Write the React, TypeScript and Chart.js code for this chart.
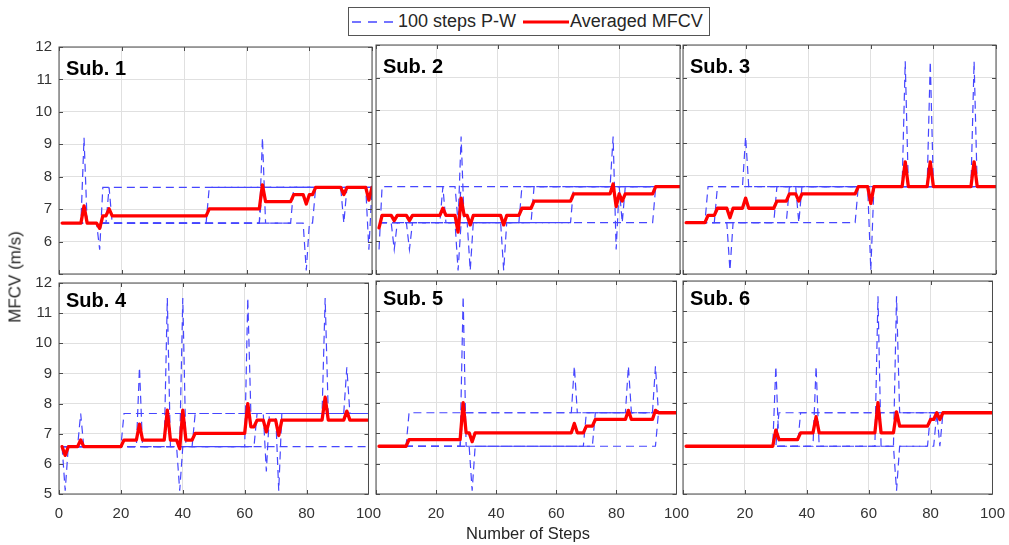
import React, { useEffect, useRef } from "react";
import { Chart, registerables } from "chart.js";

Chart.register(...registerables);
Chart.defaults.font.family = 'Arial, "Liberation Sans", Helvetica, sans-serif';

// ---------- data ----------
// x categories: step number
const STEPS = Array.from({ length: 100 }, (_, i) => i + 1);
const X_TICKS = [0, 20, 40, 60, 80, 100];
const Y_TICKS = [5, 6, 7, 8, 9, 10, 11, 12];
const SUB_NAMES = ["Sub. 1", "Sub. 2", "Sub. 3", "Sub. 4", "Sub. 5", "Sub. 6"];
const LEGEND_LABELS = ["100 steps P-W", "Averaged MFCV"];
const Y_TITLE = "MFCV (m/s)";
const X_TITLE = "Number of Steps";

// Each series is written as runs: [MFCV value (m/s), number of consecutive steps]
type Run = [number, number];

const SUB1_PW: Run[][] = [
  [[6.57, 7], [9.2, 1], [6.57, 4], [5.75, 1], [7.67, 85], [5.75, 1], [7.67, 1]],
  [[6.57, 15], [7.67, 1], [6.57, 48], [7.67, 36]],
  [[6.57, 47], [7.67, 43], [6.57, 1], [7.67, 9]],
  [[6.57, 64], [9.2, 1], [6.57, 9], [7.67, 26]],
  [[6.57, 78], [5.11, 1], [6.57, 2], [7.67, 19]],
];
const SUB1_AVG: Run[] = [[6.57, 7], [7.1, 1], [6.57, 4], [6.41, 1], [6.79, 2], [7.01, 1], [6.79, 31], [7.01, 17], [7.75, 1], [7.23, 9], [7.45, 4], [7.16, 1], [7.45, 2], [7.67, 9], [7.45, 1], [7.67, 7], [7.28, 1], [7.67, 1]];

const SUB2_PW: Run[][] = [
  [[5.75, 1], [7.67, 25], [6.57, 1], [7.67, 73]],
  [[6.57, 5], [5.75, 1], [6.57, 20], [5.11, 1], [6.57, 14], [5.11, 1], [6.57, 22], [7.67, 36]],
  [[6.57, 10], [5.75, 1], [6.57, 16], [9.2, 1], [6.57, 2], [5.11, 1], [6.57, 16], [7.67, 30], [9.2, 1], [5.75, 1], [7.67, 21]],
  [[6.57, 21], [7.67, 1], [6.57, 29], [7.67, 29], [6.57, 1], [7.67, 19]],
  [[6.57, 91], [7.67, 9]],
];
const SUB2_AVG: Run[] = [[6.41, 1], [6.79, 4], [6.63, 1], [6.79, 4], [6.63, 1], [6.79, 10], [7.01, 1], [6.79, 4], [6.28, 1], [7.32, 1], [6.79, 2], [6.5, 1], [6.79, 10], [6.5, 1], [6.79, 5], [7.01, 4], [7.23, 13], [7.45, 13], [7.75, 1], [7.06, 1], [7.45, 1], [7.23, 1], [7.45, 10], [7.67, 9]];

const SUB3_PW: Run[][] = [
  [[6.57, 7], [7.67, 12], [9.2, 1], [7.67, 50], [11.5, 1], [7.67, 29]],
  [[6.57, 10], [7.67, 26], [6.57, 1], [7.67, 41], [11.5, 1], [7.67, 21]],
  [[6.57, 14], [5.11, 1], [6.57, 14], [7.67, 63], [11.5, 1], [7.67, 7]],
  [[6.57, 33], [7.67, 67]],
  [[6.57, 55], [7.67, 4], [5.11, 1], [7.67, 40]],
];
const SUB3_AVG: Run[] = [[6.57, 7], [6.79, 3], [7.01, 4], [6.72, 1], [7.01, 4], [7.32, 1], [7.01, 9], [7.23, 4], [7.45, 3], [7.23, 1], [7.45, 18], [7.67, 4], [7.16, 1], [7.67, 10], [8.43, 1], [7.67, 7], [8.43, 1], [7.67, 13], [8.43, 1], [7.67, 7]];

const SUB4_PW: Run[][] = [
  [[6.57, 1], [5.11, 1], [6.57, 4], [7.67, 1], [6.57, 31], [5.11, 1], [6.57, 61]],
  [[6.57, 20], [7.67, 72], [9.2, 1], [7.67, 7]],
  [[6.57, 25], [9.2, 1], [6.57, 8], [11.5, 1], [6.57, 8], [7.67, 23], [5.75, 1], [7.67, 33]],
  [[6.57, 39], [11.5, 1], [6.57, 20], [11.5, 1], [7.67, 9], [5.11, 1], [7.67, 14], [11.5, 1], [7.67, 14]],
  [[6.57, 63], [7.67, 37]],
];
const SUB4_AVG: Run[] = [[6.57, 1], [6.28, 1], [6.57, 4], [6.79, 1], [6.57, 13], [6.79, 5], [7.32, 1], [6.79, 8], [7.78, 1], [6.79, 3], [6.5, 1], [7.78, 1], [6.79, 3], [7.01, 17], [8.0, 1], [7.23, 2], [7.45, 3], [7.06, 1], [7.45, 3], [6.94, 1], [7.45, 14], [8.21, 1], [7.45, 6], [7.75, 1], [7.45, 7]];

const SUB5_PW: Run[][] = [
  [[6.57, 10], [7.67, 55], [9.2, 1], [7.67, 34]],
  [[6.57, 28], [7.67, 55], [9.2, 1], [7.67, 16]],
  [[6.57, 28], [11.5, 1], [6.57, 40], [7.67, 23], [9.2, 1], [7.67, 7]],
  [[6.57, 31], [5.11, 1], [6.57, 40], [7.67, 28]],
  [[6.57, 93], [7.67, 7]],
];
const SUB5_AVG: Run[] = [[6.57, 10], [6.79, 18], [8.0, 1], [7.01, 2], [6.72, 1], [7.01, 33], [7.32, 1], [7.01, 3], [7.23, 3], [7.45, 11], [7.75, 1], [7.45, 8], [7.75, 1], [7.67, 7]];

const SUB6_PW: Run[][] = [
  [[6.57, 29], [9.2, 1], [6.57, 12], [9.2, 1], [6.57, 25], [5.11, 1], [6.57, 12], [7.67, 1], [6.57, 1], [7.67, 17]],
  [[6.57, 30], [7.67, 70]],
  [[6.57, 37], [7.67, 63]],
  [[6.57, 62], [11.5, 1], [6.57, 16], [7.67, 21]],
  [[6.57, 68], [11.5, 1], [7.67, 31]],
];
const SUB6_AVG: Run[] = [[6.57, 29], [7.1, 1], [6.79, 7], [7.01, 5], [7.54, 1], [7.01, 19], [8.0, 1], [7.01, 5], [7.7, 1], [7.23, 10], [7.45, 2], [7.67, 1], [7.45, 1], [7.67, 17]];

const PANELS = [
  { pw: SUB1_PW, avg: SUB1_AVG },
  { pw: SUB2_PW, avg: SUB2_AVG },
  { pw: SUB3_PW, avg: SUB3_AVG },
  { pw: SUB4_PW, avg: SUB4_AVG },
  { pw: SUB5_PW, avg: SUB5_AVG },
  { pw: SUB6_PW, avg: SUB6_AVG },
];

// ---------- layout / style ----------
const COLS: [number, number][] = [[59, 313], [376, 304], [683, 313]];
const ROWS: [number, number][] = [[45, 229], [281, 213]];
const PADL = 44, PADR = 20, PADT = 14, PADB = 36;
const BLUE = "rgb(70,70,255)";
const RED = "#ff0000";
const GRID = "#e0e0e0";
const TICK = "#333333";
const FRAME = "#4a4a4a";
const TEXT = "#262626";

function expand(runs: Run[]): number[] {
  const out: number[] = [];
  runs.forEach(([v, n]) => {
    for (let k = 0; k < n; k++) out.push(v);
  });
  return out;
}

function toPoints(runs: Run[]) {
  const ys = expand(runs);
  return ys.map((y, i) => ({ x: STEPS[i], y }));
}

function makeFramePlugin(name: string, row: number) {
  return {
    id: "frame",
    afterDraw(chart: any) {
      const { ctx } = chart;
      const xs = chart.scales.x;
      const ys = chart.scales.y;
      const left = xs.getPixelForValue(X_TICKS[0]);
      const right = xs.getPixelForValue(X_TICKS[X_TICKS.length - 1]);
      const top = ys.getPixelForValue(Y_TICKS[Y_TICKS.length - 1]);
      const bottom = ys.getPixelForValue(Y_TICKS[0]);
      ctx.save();
      ctx.strokeStyle = FRAME;
      ctx.lineWidth = 1;
      // inward ticks
      ctx.beginPath();
      X_TICKS.forEach((v) => {
        const px = Math.round(xs.getPixelForValue(v)) + 0.5;
        ctx.moveTo(px, bottom);
        ctx.lineTo(px, bottom - 4);
        ctx.moveTo(px, top);
        ctx.lineTo(px, top + 4);
      });
      Y_TICKS.forEach((v) => {
        const py = Math.round(ys.getPixelForValue(v)) + 0.5;
        ctx.moveTo(left, py);
        ctx.lineTo(left + 4, py);
        ctx.moveTo(right, py);
        ctx.lineTo(right - 4, py);
      });
      ctx.stroke();
      // box
      ctx.strokeRect(left, top, right - left, bottom - top);
      // panel label
      ctx.fillStyle = "#000";
      ctx.font = 'bold 20px Arial, "Liberation Sans", Helvetica, sans-serif';
      ctx.textBaseline = "alphabetic";
      ctx.textAlign = "left";
      ctx.fillText(name, left + 7, top + (row === 0 ? 28 : 24));
      ctx.restore();
    },
  };
}

function Panel({ idx }: { idx: number }) {
  const ref = useRef<HTMLCanvasElement>(null);
  const col = idx % 3;
  const row = Math.floor(idx / 3);
  const [l, w] = COLS[col];
  const [t, h] = ROWS[row];
  const W = w + PADL + PADR;
  const H = h + PADT + PADB;

  useEffect(() => {
    const { pw, avg } = PANELS[idx];
    const datasets: any[] = [
      {
        label: LEGEND_LABELS[1],
        data: toPoints(avg),
        borderColor: RED,
        backgroundColor: RED,
        borderWidth: 3.3,
        pointRadius: 0,
        tension: 0,
        borderJoinStyle: "round",
        borderCapStyle: "round",
        fill: false,
      },
      ...pw.map((tr) => ({
        label: LEGEND_LABELS[0],
        data: toPoints(tr),
        borderColor: BLUE,
        backgroundColor: BLUE,
        borderWidth: 1.2,
        borderDash: [8, 5],
        pointRadius: 0,
        tension: 0,
        fill: false,
      })),
    ];
    const chart = new Chart(ref.current as HTMLCanvasElement, {
      type: "line",
      data: { datasets },
      options: {
        animation: false,
        responsive: false,
        maintainAspectRatio: false,
        devicePixelRatio: 1,
        events: [],
        layout: { padding: { left: 0, right: PADR, top: PADT, bottom: 0 } },
        plugins: { legend: { display: false }, tooltip: { enabled: false } },
        scales: {
          x: {
            type: "linear",
            min: 0,
            max: 100,
            afterFit: (s: any) => {
              s.height = PADB;
            },
            grid: { color: GRID, drawTicks: false, lineWidth: 1 },
            border: { display: false },
            ticks: {
              display: row === 1,
              stepSize: 20,
              padding: 11,
              color: TICK,
              font: { size: 15 },
              maxRotation: 0,
              autoSkip: false,
              callback: (v: any) => (col > 0 && Number(v) === 0 ? "" : String(v)),
            },
          },
          y: {
            type: "linear",
            min: 5,
            max: 12,
            afterFit: (s: any) => {
              s.width = PADL;
            },
            grid: { color: GRID, drawTicks: false, lineWidth: 1 },
            border: { display: false },
            ticks: {
              display: col === 0,
              stepSize: 1,
              padding: 7,
              color: TICK,
              font: { size: 15 },
              autoSkip: false,
              callback: (v: any) => (row === 0 && Number(v) === 5 ? "" : String(v)),
            },
          },
        },
      } as any,
      plugins: [makeFramePlugin(SUB_NAMES[idx], row)],
    });
    return () => chart.destroy();
  }, [idx]);

  return (
    <canvas
      ref={ref}
      width={W}
      height={H}
      style={{ position: "absolute", left: l - PADL, top: t - PADT, width: W, height: H }}
    />
  );
}

export default function App() {
  const font = 'Arial, "Liberation Sans", Helvetica, sans-serif';
  return (
    <div
      style={{
        position: "absolute",
        left: 0,
        top: 0,
        width: 1009,
        height: 545,
        background: "#fff",
        overflow: "hidden",
        fontFamily: font,
      }}
    >
      {PANELS.map((_, i) => (
        <Panel key={i} idx={i} />
      ))}
      {/* legend */}
      <div
        style={{
          position: "absolute",
          left: 348,
          top: 7,
          width: 362,
          height: 29,
          border: "1px solid #555",
          boxSizing: "border-box",
          background: "#fff",
        }}
      >
        <svg style={{ position: "absolute", left: 3, top: 12 }} width={46} height={4}>
          <line x1={0} y1={2} x2={46} y2={2} stroke={BLUE} strokeWidth={1.3} strokeDasharray="9 7" />
        </svg>
        <span
          style={{ position: "absolute", left: 49, top: 4, fontSize: 18, lineHeight: "18px", color: TEXT, whiteSpace: "nowrap" }}
        >
          {LEGEND_LABELS[0]}
        </span>
        <svg style={{ position: "absolute", left: 174, top: 11 }} width={46} height={6}>
          <line x1={0} y1={3} x2={46} y2={3} stroke={RED} strokeWidth={3} />
        </svg>
        <span
          style={{ position: "absolute", left: 221, top: 4, fontSize: 18, lineHeight: "18px", color: TEXT, whiteSpace: "nowrap" }}
        >
          {LEGEND_LABELS[1]}
        </span>
      </div>
      {/* axis titles */}
      <div
        style={{
          position: "absolute",
          left: 15,
          top: 277,
          transform: "translate(-50%, -50%) rotate(-90deg)",
          fontSize: 17,
          lineHeight: "17px",
          color: TEXT,
          whiteSpace: "nowrap",
        }}
      >
        {Y_TITLE}
      </div>
      <div
        style={{
          position: "absolute",
          left: 528,
          top: 533,
          transform: "translate(-50%, -50%)",
          fontSize: 16.5,
          lineHeight: "17px",
          color: TEXT,
          whiteSpace: "nowrap",
        }}
      >
        {X_TITLE}
      </div>
    </div>
  );
}
